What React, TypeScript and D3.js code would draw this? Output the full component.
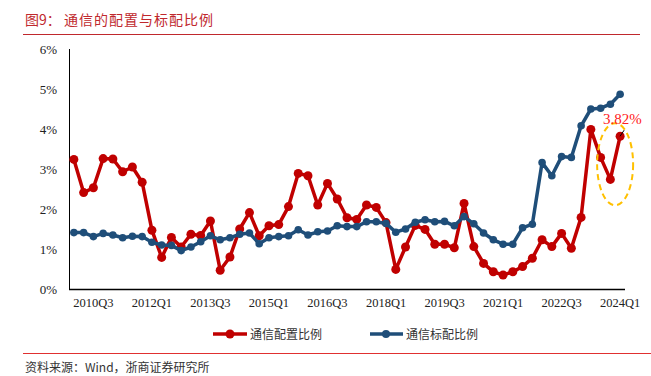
import React from "react";
import * as d3 from "d3";

const quarters: string[] = [];
for (let y = 2010; y <= 2024; y++) {
  for (let q = 1; q <= 4; q++) {
    if (y === 2024 && q > 1) break;
    quarters.push(`${y}Q${q}`);
  }
}

const allocation = [
  3.24, 2.41, 2.53, 3.26, 3.25, 2.93, 3.05, 2.67, 1.47, 0.79,
  1.29, 1.05, 1.37, 1.34, 1.7, 0.47, 0.8, 1.5, 1.91, 1.33,
  1.58, 1.61, 2.06, 2.89, 2.83, 2.1, 2.64, 2.25, 1.78, 1.74,
  2.1, 2.04, 1.66, 0.49, 1.05, 1.59, 1.49, 1.12, 1.12, 1.03,
  2.14, 1.06, 0.64, 0.43, 0.35, 0.43, 0.56, 0.77, 1.23, 1.06,
  1.39, 1.02, 1.79, 3.99, 3.29, 2.74, 3.82,
];

const benchmark = [
  1.41, 1.41, 1.31, 1.39, 1.35, 1.28, 1.32, 1.31, 1.17, 1.1,
  1.09, 0.96, 1.05, 1.18, 1.33, 1.23, 1.28, 1.37, 1.4, 1.13,
  1.28, 1.31, 1.33, 1.48, 1.35, 1.43, 1.45, 1.58, 1.56, 1.56,
  1.68, 1.68, 1.64, 1.42, 1.5, 1.67, 1.73, 1.68, 1.69, 1.58,
  1.81, 1.63, 1.4, 1.23, 1.12, 1.12, 1.53, 1.62, 3.16, 2.83,
  3.31, 3.29, 4.08, 4.5, 4.52, 4.62, 4.87,
];

const yTicks = [0, 1, 2, 3, 4, 5, 6];
const xTickLabels = ["2010Q3", "2012Q1", "2013Q3", "2015Q1", "2016Q3", "2018Q1", "2019Q3", "2021Q1", "2022Q3", "2024Q1"];
const seriesNames = ["通信配置比例", "通信标配比例"];
const title = "图9：";
const titleText = "通信的配置与标配比例";
const source = "资料来源：Wind，浙商证券研究所";
const annotation = "3.82%";

const RED = "#C00000";
const BLUE = "#1F4E79";
const SERIF = "'Liberation Serif', 'Times New Roman', serif";
const CJK = "'Noto Sans CJK SC', sans-serif";

export default function App() {
  const W = 651, H = 376;
  const x = d3.scalePoint<string>().domain(quarters).range([69, 625]).padding(0.5);
  const y = d3.scaleLinear().domain([0, 6]).range([289, 49]);
  const line = d3.line<number>().x((_, i) => x(quarters[i]) as number).y((d) => y(d));

  const lastIdx = allocation.length - 1;
  const lx = x(quarters[lastIdx]) as number;
  const ly = y(allocation[lastIdx]);

  return (
    <svg width={W} height={H} style={{ position: "fixed", left: 0, top: 0, background: "#fff" }}>
      <rect width={W} height={H} fill="#fff" />
      {/* title */}
      <text x={25} y={25} fontFamily={CJK} fontSize={14} fill="#C0282D">
        {title}
      </text>
      <text x={64} y={25} fontFamily={CJK} fontSize={14} fill="#C0282D" letterSpacing={1}>
        {titleText}
      </text>
      <line x1={23} x2={640} y1={34.5} y2={34.5} stroke="#C0282D" strokeWidth={1} />

      {/* y axis */}
      <line x1={69.5} x2={69.5} y1={49} y2={289} stroke="#000" strokeWidth={1} />
      {yTicks.map((t) => (
        <text key={t} x={57} y={y(t) + 5} textAnchor="end" fontFamily={SERIF} fontSize={13} fill="#222">
          {t}%
        </text>
      ))}
      {/* x axis */}
      <line x1={69} x2={625} y1={289.5} y2={289.5} stroke="#000" strokeWidth={1.5} />
      {xTickLabels.map((l) => (
        <text key={l} x={x(l) as number} y={307} textAnchor="middle" fontFamily={SERIF} fontSize={12.5} fill="#222">
          {l}
        </text>
      ))}

      {/* red series */}
      <path d={line(allocation) || ""} fill="none" stroke={RED} strokeWidth={3.5} strokeLinejoin="round" />
      {allocation.map((v, i) => (
        <circle key={"r" + i} cx={x(quarters[i]) as number} cy={y(v)} r={4.5} fill={RED} />
      ))}
      {/* blue series */}
      <path d={line(benchmark) || ""} fill="none" stroke={BLUE} strokeWidth={3.5} strokeLinejoin="round" />
      {benchmark.map((v, i) => (
        <circle key={"b" + i} cx={x(quarters[i]) as number} cy={y(v)} r={3.8} fill={BLUE} />
      ))}

      {/* annotation */}
      <ellipse cx={lx - 5} cy={ly + 28} rx={18} ry={41} fill="none" stroke="#FFC000" strokeWidth={2} strokeDasharray="6,4" />
      <line x1={lx} y1={ly} x2={lx + 4} y2={ly - 6} stroke="#000" strokeWidth={1} />
      <text x={lx - 17} y={ly - 12} fontFamily={SERIF} fontSize={15} fill="#FF2020">
        {annotation}
      </text>

      {/* legend */}
      <g>
        <line x1={213} x2={247} y1={334} y2={334} stroke={RED} strokeWidth={3.5} />
        <circle cx={230} cy={334} r={4.5} fill={RED} />
        <text x={250} y={339} fontFamily={CJK} fontSize={12} fill="#333">{seriesNames[0]}</text>
        <line x1={370} x2={403} y1={334} y2={334} stroke={BLUE} strokeWidth={3.5} />
        <circle cx={386} cy={334} r={4} fill={BLUE} />
        <text x={406} y={339} fontFamily={CJK} fontSize={12} fill="#333">{seriesNames[1]}</text>
      </g>

      <line x1={23} x2={651} y1={353.5} y2={353.5} stroke="#E03030" strokeWidth={1} />
      <text x={25} y={372} fontFamily={CJK} fontSize={12} fill="#333">{source}</text>
    </svg>
  );
}
